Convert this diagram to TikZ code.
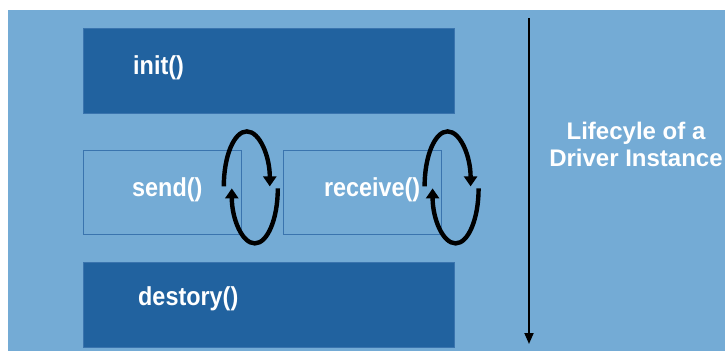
\documentclass[tikz,border=0pt]{standalone}
\usepackage{fontspec}
\setmainfont{Liberation Sans}
\newfontfamily\labelfont[FakeStretch=0.9]{Liberation Sans}
\usepackage{tikz}
\usetikzlibrary{positioning,arrows.meta,calc}
\definecolor{bgblue}{HTML}{74ABD5}
\definecolor{boxblue}{HTML}{21629F}
\definecolor{lineblue}{HTML}{3A74AE}

\begin{document}
\begin{tikzpicture}[
    x=1pt, y=1pt,
    font=\fontsize{24}{27}\selectfont\bfseries,
    phase/.style={draw=lineblue, fill=boxblue, line width=0.8pt,
        minimum width=371pt, minimum height=85pt, inner sep=0pt, anchor=north west},
    call/.style={draw=lineblue, fill=bgblue, line width=0.8pt,
        minimum width=158pt, minimum height=84pt, inner sep=0pt, anchor=north west},
    lbl/.style={text=white, anchor=west, inner sep=0pt,
        font=\labelfont\fontsize{26}{28}\selectfont\bfseries},
    loop/.style={line width=4.4pt, -{Triangle[length=10pt, width=13pt]}},
    life/.style={line width=1.8pt, -{Triangle[length=11pt, width=9pt]}},
]
    % ---------- fondo ----------
    \useasboundingbox (0,0) rectangle (725,351);
    \fill[white] (0,0) rectangle (725,351);
    \fill[bgblue] (8,0) rectangle (725,341);

    % ---------- fases ----------
    \node[phase] (init) at (83,323) {};
    \node[call]  (send) at (83,201) {};
    \node[call, right=41pt of send] (recv) {};
    \node[phase] (dest) at (83,89) {};

    \node[lbl] (initlbl) at ([xshift=50pt, yshift=3pt]init.west) {init()};
    \node[lbl] (sendlbl) at ([xshift=49pt, yshift=3pt]send.west) {send()};
    \node[lbl] (recvlbl) at ([xshift=41pt, yshift=3pt]recv.west) {receive()};
    \node[lbl] (destlbl) at ([xshift=55pt, yshift=6pt]dest.west) {destory()};

    % ---------- bucles ----------
    \coordinate (sendloop) at ([xshift=-18pt, yshift=6pt]send.east);
    \coordinate (recvloop) at ([xshift=-17pt, yshift=6pt]recv.east);
    \foreach \c in {sendloop, recvloop} {
        \draw[loop] (\c) arc[start angle=180, end angle=0, x radius=23, y radius=55];
        \draw[loop] ($(\c)+(54,-2)$) arc[start angle=0, end angle=-180, x radius=23, y radius=55];
    }

    % ---------- ciclo de vida ----------
    \coordinate (top) at (529,333);
    \coordinate (bot) at (529,7);
    \draw[life] (top) -- (bot);
    \node[text=white, align=center, inner sep=0pt] (title) at (636,207)
        {Lifecyle of a\\Driver Instance};
\end{tikzpicture}
\end{document}
